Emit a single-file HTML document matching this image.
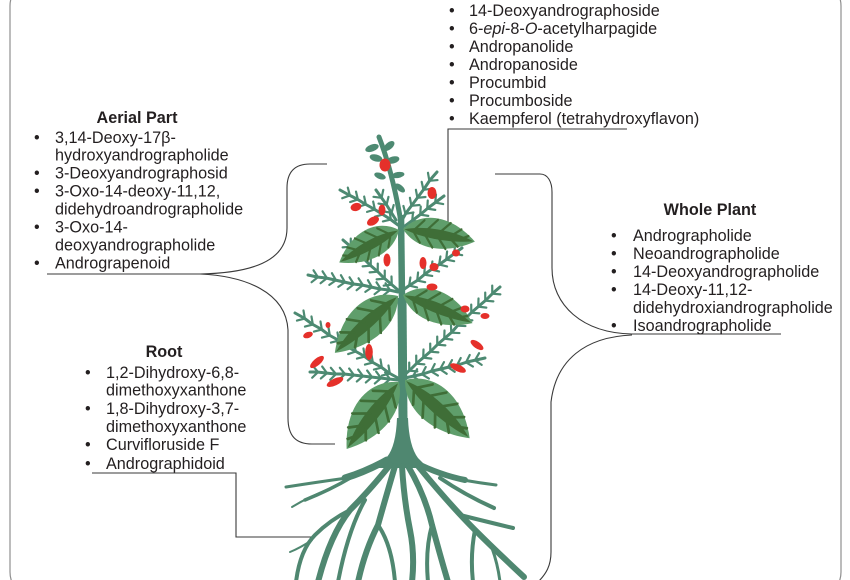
<!DOCTYPE html>
<html><head><meta charset="utf-8">
<style>
html,body{margin:0;padding:0;background:#fff;}
body{width:850px;height:580px;overflow:hidden;}
svg{display:block;}
text{font-family:"Liberation Sans",Arial,sans-serif;font-size:16.2px;fill:#231f20;}
.b{font-weight:bold;}
.ln{fill:none;stroke:#3a3a3a;stroke-width:1.1;}
.br{fill:none;stroke:#4d8a72;stroke-width:3;stroke-linecap:round;stroke-linejoin:round;marker-mid:url(#sp);}
.rt{fill:none;stroke:#4f8770;stroke-linecap:round;stroke-linejoin:round;}
.fl{fill:#e5302a;}
</style></head>
<body>
<svg width="850" height="580" viewBox="0 0 850 580" xmlns="http://www.w3.org/2000/svg">
<defs>
<marker id="sp" markerUnits="userSpaceOnUse" markerWidth="20" markerHeight="20" viewBox="-10 -10 20 20" refX="0" refY="0" orient="auto" overflow="visible">
<path d="M-1,0 L4.5,-6 M-1,0 L4.5,6" stroke="#4d8a72" stroke-width="2.2" fill="none" stroke-linecap="round"/>
</marker>
<g id="leaf">
<path d="M0,0 C20,-24 62,-26 100,0 C66,19 24,22 0,0Z" fill="#5f9e6b"/>
<path d="M2,0 C30,-9 70,-8 98,0 C70,6 30,7 2,0Z" fill="#3f6e37"/>
<path d="M16,-2 L27,-14 M32,-3 L45,-17 M50,-3 L63,-16 M67,-2 L79,-11 M82,-1 L90,-5 M16,2 L26,12 M32,3 L44,15 M50,3 L62,14 M67,2 L78,9" stroke="#3f6e37" stroke-width="2.8" fill="none" stroke-linecap="round"/>
</g>
</defs>

<!-- frame -->
<rect x="10" y="-20" width="831" height="618" rx="26" ry="26" fill="none" stroke="#8f8f8f" stroke-width="1.2"/>

<!-- connectors -->
<path class="ln" d="M47,274 H200 C250,273 287,262 287,228 V188 C287,172 295,164 310,164 H327"/>
<path class="ln" d="M200,274 C245,276 286,292 288,330 V418 C288,436 296,444 312,444 H335"/>
<path class="ln" d="M627,129 H448 V226"/>
<path class="ln" d="M92,473 H236 V537 H312"/>
<path class="ln" d="M495,174 H540 C548,174 552,182 552,192 V268 C552,305 582,333 632,334 H781"/>
<path class="ln" d="M632,335 C585,337 556,360 551,402 V552 C551,566 546,574 538,582"/>

<!-- plant: roots -->
<path d="M397,418 L408,418 Q409,446 418,458 Q424,464 428,468 L376,468 Q382,463 387,457 Q396,446 397,418 Z" fill="#4f8770"/>
<g class="rt">
<path d="M387,460 Q365,472 345,478" stroke-width="7"/>
<path d="M347,478 Q318,482 286,487" stroke-width="3"/>
<path d="M352,477 Q330,490 305,500" stroke-width="3.5"/>
<path d="M330,489 Q310,496 292,507" stroke-width="2"/>
<path d="M390,465 Q370,490 350,510 Q330,535 318,582" stroke-width="6"/>
<path d="M350,510 Q330,520 315,535 Q300,550 296,582" stroke-width="4"/>
<path d="M312,540 Q300,548 290,552" stroke-width="2"/>
<path d="M395,466 Q385,500 378,525 Q365,550 358,582" stroke-width="6"/>
<path d="M378,525 Q392,545 395,582" stroke-width="4"/>
<path d="M365,500 Q348,530 338,582" stroke-width="4"/>
<path d="M402,466 Q404,500 410,530 Q415,555 412,582" stroke-width="6"/>
<path d="M408,466 Q425,495 432,525 Q440,555 448,582" stroke-width="6"/>
<path d="M432,525 Q425,550 428,582" stroke-width="4"/>
<path d="M414,462 Q440,475 465,480" stroke-width="6"/>
<path d="M463,480 Q480,483 496,485" stroke-width="3"/>
<path d="M440,478 Q465,495 494,508" stroke-width="4"/>
<path d="M418,466 Q450,505 475,530 Q495,550 524,577" stroke-width="6"/>
<path d="M475,530 Q470,555 473,582" stroke-width="4"/>
<path d="M460,515 Q488,522 513,528" stroke-width="4"/>
<path d="M492,548 Q498,565 500,582" stroke-width="3"/>
</g>

<!-- stem -->
<path d="M379,137 Q392,170 401,222" fill="none" stroke="#4d8a72" stroke-width="5" stroke-linecap="round"/>
<path d="M401,215 L402,300" fill="none" stroke="#4d8a72" stroke-width="6.5"/>
<path d="M402,298 L403,420" fill="none" stroke="#4d8a72" stroke-width="9"/>

<!-- top leaflets -->
<g fill="#4d8a72">
<ellipse cx="372" cy="148" rx="7" ry="3.5" transform="rotate(-20 372 148)"/>
<ellipse cx="389" cy="146" rx="6.5" ry="3.5" transform="rotate(-40 389 146)"/>
<ellipse cx="376" cy="158" rx="6.5" ry="3.5" transform="rotate(15 376 158)"/>
<ellipse cx="393" cy="160" rx="6.5" ry="3.5" transform="rotate(-15 393 160)"/>
<ellipse cx="380" cy="176" rx="6" ry="3" transform="rotate(20 380 176)"/>
<ellipse cx="398" cy="175" rx="6.5" ry="3" transform="rotate(-10 398 175)"/>
<ellipse cx="400" cy="188" rx="6" ry="3" transform="rotate(40 400 188)"/>
</g>

<!-- branches -->
<polyline class="br" points="398,225 390,219 382,214 374,209 365,204 357,199 349,195 340,190"/>
<polyline class="br" points="396,220 391,212 386,204 381,197 376,190"/>
<polyline class="br" points="401,222 406,213 412,205 418,197 424,189 430,180 437,172"/>
<polyline class="br" points="405,226 413,220 421,214 428,208 436,202 444,196"/>
<polyline class="br" points="398,290 391,284 384,278 377,271 370,265 364,259 357,253 350,246 343,240"/>
<polyline class="br" points="398,292 389,290 380,289 371,287 362,285 353,284 344,282 335,280 326,278 317,277 308,275"/>
<polyline class="br" points="403,290 410,285 418,280 425,274 432,269 440,264 447,259 455,253 462,248"/>
<polyline class="br" points="398,378 389,373 381,367 372,362 364,356 355,351 346,346 338,340 329,335 321,329 312,324 304,318 295,313"/>
<polyline class="br" points="398,380 389,379 380,378 371,377 362,376 353,375 344,374 335,374 326,373 317,372 310,372"/>
<polyline class="br" points="403,376 410,370 417,363 424,357 431,351 438,344 445,338 452,332 458,325 465,319 472,312 479,306 486,300 493,293 500,287"/>
<polyline class="br" points="405,378 414,376 423,374 432,371 441,369 449,367 458,365 467,362 476,360 485,358"/>

<!-- leaves -->
<use href="#leaf" transform="translate(399,230) rotate(151.5) scale(0.68,-0.85)"/>
<use href="#leaf" transform="translate(403,229) rotate(10) scale(0.73,0.88)"/>
<use href="#leaf" transform="translate(398,296) rotate(138) scale(0.85,-1.05)"/>
<use href="#leaf" transform="translate(403,295) rotate(22) scale(0.75,0.92)"/>
<use href="#leaf" transform="translate(399,382) rotate(128) scale(0.85,-1.08)"/>
<use href="#leaf" transform="translate(405,380) rotate(42) scale(0.87,1.08)"/>

<!-- flowers -->
<g class="fl">
<ellipse cx="385" cy="165" rx="5.5" ry="6.5"/>
<ellipse cx="432" cy="193" rx="4.5" ry="6"/>
<ellipse cx="356" cy="207" rx="5.5" ry="4" transform="rotate(-15 356 207)"/>
<ellipse cx="382" cy="210" rx="3.5" ry="5.5"/>
<ellipse cx="373" cy="221" rx="6.5" ry="4" transform="rotate(-30 373 221)"/>
<ellipse cx="387" cy="260" rx="3.5" ry="6.5"/>
<ellipse cx="423" cy="263" rx="3.5" ry="6"/>
<ellipse cx="434" cy="267" rx="4.5" ry="4"/>
<ellipse cx="432" cy="287" rx="5.5" ry="3.5"/>
<ellipse cx="456" cy="253" rx="4" ry="3.5"/>
<ellipse cx="465" cy="309" rx="4.5" ry="3.5"/>
<ellipse cx="485" cy="316" rx="4.5" ry="3"/>
<ellipse cx="477" cy="345" rx="7.5" ry="3.3" transform="rotate(35 477 345)"/>
<ellipse cx="458" cy="368" rx="8.5" ry="3.5" transform="rotate(25 458 368)"/>
<ellipse cx="308" cy="335" rx="5" ry="3" transform="rotate(-20 308 335)"/>
<ellipse cx="328" cy="325" rx="2.5" ry="3"/>
<ellipse cx="317" cy="362" rx="8.5" ry="3.5" transform="rotate(-40 317 362)"/>
<ellipse cx="335" cy="382" rx="9" ry="3.5" transform="rotate(-25 335 382)"/>
<ellipse cx="369" cy="352" rx="3.8" ry="8"/>
</g>

<!-- top centre list -->
<text x="449" y="16">•</text><text x="469" y="16">14-Deoxyandrographoside</text>
<text x="449" y="34">•</text><text x="469" y="34">6-<tspan font-style="italic">epi</tspan>-8-<tspan font-style="italic">O</tspan>-acetylharpagide</text>
<text x="449" y="52">•</text><text x="469" y="52">Andropanolide</text>
<text x="449" y="70">•</text><text x="469" y="70">Andropanoside</text>
<text x="449" y="88">•</text><text x="469" y="88">Procumbid</text>
<text x="449" y="106">•</text><text x="469" y="106">Procumboside</text>
<text x="449" y="124">•</text><text x="469" y="124">Kaempferol (tetrahydroxyflavon)</text>

<!-- Aerial Part -->
<text class="b" x="137" y="123" text-anchor="middle">Aerial Part</text>
<text x="34" y="143">•</text><text x="55" y="143">3,14-Deoxy-17β-</text>
<text x="55" y="160.5">hydroxyandrographolide</text>
<text x="34" y="178.5">•</text><text x="55" y="178.5">3-Deoxyandrographosid</text>
<text x="34" y="196.5">•</text><text x="55" y="196.5">3-Oxo-14-deoxy-11,12,</text>
<text x="55" y="214.5">didehydroandrographolide</text>
<text x="34" y="232.5">•</text><text x="55" y="232.5">3-Oxo-14-</text>
<text x="55" y="250.5">deoxyandrographolide</text>
<text x="34" y="268.5">•</text><text x="55" y="268.5">Andrograpenoid</text>

<!-- Root -->
<text class="b" x="164" y="357" text-anchor="middle">Root</text>
<text x="85" y="378">•</text><text x="106" y="378">1,2-Dihydroxy-6,8-</text>
<text x="106" y="395.5">dimethoxyxanthone</text>
<text x="85" y="414">•</text><text x="106" y="414">1,8-Dihydroxy-3,7-</text>
<text x="106" y="432">dimethoxyxanthone</text>
<text x="85" y="450">•</text><text x="106" y="450">Curvifloruside F</text>
<text x="85" y="469">•</text><text x="106" y="469">Andrographidoid</text>

<!-- Whole Plant -->
<text class="b" x="710" y="215" text-anchor="middle">Whole Plant</text>
<text x="611" y="241">•</text><text x="633" y="241">Andrographolide</text>
<text x="611" y="259">•</text><text x="633" y="259">Neoandrographolide</text>
<text x="611" y="277">•</text><text x="633" y="277">14-Deoxyandrographolide</text>
<text x="611" y="295">•</text><text x="633" y="295">14-Deoxy-11,12-</text>
<text x="633" y="313">didehydroxiandrographolide</text>
<text x="611" y="331">•</text><text x="633" y="331">Isoandrographolide</text>
</svg>
</body></html>
